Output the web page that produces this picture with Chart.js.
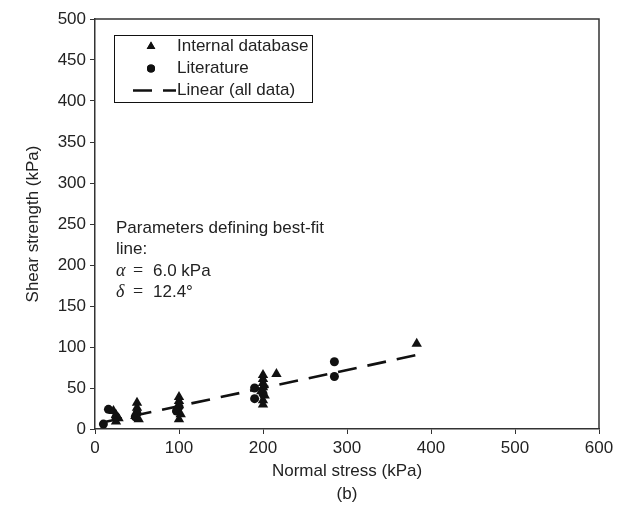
<!DOCTYPE html>
<html>
<head>
<meta charset="utf-8">
<script src="https://cdn.jsdelivr.net/npm/chart.js@4"></script>
<style>
  html, body { margin: 0; padding: 0; background: #fff; }
  #wrap { width: 631px; height: 509px; }
</style>
</head>
<body>
<div id="wrap"><canvas id="myChart" width="631" height="509"></canvas></div>
<script>
const internalX = [22, 25, 28, 25, 50, 50, 50, 48, 52, 100, 100, 100, 98, 102, 100, 200, 200, 200, 200, 198, 202, 200, 200, 216, 383];
const internalY = [22, 17, 13, 9, 32, 26, 21, 16, 12, 39, 34, 29, 24, 18, 12, 66, 61, 56, 51, 46, 41, 35, 30, 67, 104];

const literatureX = [16, 10, 25, 48, 50, 97, 100, 190, 190, 200, 285, 285];
const literatureY = [24, 6, 14, 15, 19, 22, 27, 50, 37, 43, 82, 64];

const fitX = [10, 383];
const fitY = [8.2, 90.2];

const xTicks = [0, 100, 200, 300, 400, 500, 600];
const yTicks = [0, 50, 100, 150, 200, 250, 300, 350, 400, 450, 500];

const legendLabels = ["Internal database", "Literature", "Linear (all data)"];
const noteLines = ["Parameters defining best-fit", "line:"];

const ink = "#111";
const axisInk = "#333";
const sans = "'Liberation Sans', Arial, sans-serif";

const pts = (xs, ys) => xs.map((x, i) => ({ x, y: ys[i] }));

// frame, legend and the fit parameters text
const extras = {
  id: "extras",
  afterDraw(chart) {
    const { ctx, chartArea: a } = chart;
    ctx.save();
    ctx.strokeStyle = axisInk;
    ctx.lineWidth = 1.5;
    ctx.beginPath();
    ctx.moveTo(a.left, a.top);
    ctx.lineTo(a.right, a.top);
    ctx.lineTo(a.right, a.bottom);
    ctx.stroke();

    // legend
    ctx.lineWidth = 1;
    ctx.strokeStyle = ink;
    ctx.strokeRect(114.5, 35.5, 198, 67);
    const rows = [46.5, 68.5, 90.5];
    const ds = chart.data.datasets;
    ctx.fillStyle = ink;
    Chart.helpers.drawPoint(ctx, { pointStyle: "triangle", radius: 5, rotation: 0, borderWidth: 0 }, 151, rows[0]);
    ctx.fill();
    Chart.helpers.drawPoint(ctx, { pointStyle: "circle", radius: 4, rotation: 0, borderWidth: 0 }, 151, rows[1]);
    ctx.fill();
    ctx.setLineDash(ds[2].borderDash);
    ctx.lineWidth = ds[2].borderWidth;
    ctx.beginPath();
    ctx.moveTo(133, rows[2]);
    ctx.lineTo(176, rows[2]);
    ctx.stroke();
    ctx.setLineDash([]);
    ctx.font = "17px " + sans;
    ctx.fillStyle = "#222";
    ctx.textBaseline = "middle";
    legendLabels.forEach((t, i) => ctx.fillText(t, 177, rows[i]));

    // note
    ctx.fillText(noteLines[0], 116, 228);
    ctx.fillText(noteLines[1], 116, 249.5);
    ctx.font = "italic 18px 'Liberation Serif', serif";
    ctx.fillText("\u03b1", 116, 271);
    ctx.fillText("\u03b4", 116, 292);
    ctx.font = "18px 'Liberation Serif', serif";
    ctx.fillText("=", 133, 271);
    ctx.fillText("=", 133, 292);
    ctx.font = "17px " + sans;
    ctx.fillText("6.0 kPa", 153, 271);
    ctx.fillText("12.4\u00b0", 153, 292);
    ctx.restore();
  },
};

const data = {
  datasets: [
    {
      label: legendLabels[0],
      data: pts(internalX, internalY),
      pointStyle: "triangle",
      pointRadius: 6,
      backgroundColor: ink,
      borderColor: ink,
      borderWidth: 0,
      showLine: false,
      order: 1,
    },
    {
      label: legendLabels[1],
      data: pts(literatureX, literatureY),
      pointStyle: "circle",
      pointRadius: 4.5,
      backgroundColor: ink,
      borderColor: ink,
      borderWidth: 0,
      showLine: false,
      order: 2,
    },
    {
      label: legendLabels[2],
      data: pts(fitX, fitY),
      showLine: true,
      pointRadius: 0,
      borderColor: ink,
      borderWidth: 2.6,
      borderDash: [19, 11],
      fill: false,
      order: 3,
    },
  ],
};

const config = {
  type: "scatter",
  data,
  plugins: [extras],
  options: {
    responsive: false,
    animation: false,
    layout: { padding: { left: 20, top: 19, right: 32, bottom: 0 } },
    plugins: { legend: { display: false }, tooltip: { enabled: false } },
    scales: {
      x: {
        type: "linear",
        min: 0,
        max: 600,
        afterBuildTicks: (s) => { s.ticks = xTicks.map((v) => ({ value: v })); },
        afterFit: (s) => { s.height = 80; },
        border: { color: axisInk, width: 1.5 },
        grid: { drawOnChartArea: false, drawTicks: true, tickLength: 5, color: axisInk, tickWidth: 1 },
        ticks: { color: "#222", padding: 4, font: { family: sans, size: 17 }, maxRotation: 0 },
        title: {
          display: true,
          text: ["Normal stress (kPa)", "(b)"],
          color: "#222",
          font: { family: sans, size: 17, lineHeight: 1.35 },
          padding: { top: 0, bottom: 3 },
        },
      },
      y: {
        type: "linear",
        min: 0,
        max: 500,
        afterBuildTicks: (s) => { s.ticks = yTicks.map((v) => ({ value: v })); },
        afterFit: (s) => { s.width = 75; },
        border: { color: axisInk, width: 1.5 },
        grid: { drawOnChartArea: false, drawTicks: true, tickLength: 5, color: axisInk, tickWidth: 1 },
        ticks: { color: "#222", padding: 4, font: { family: sans, size: 17 } },
        title: {
          display: true,
          text: "Shear strength (kPa)",
          color: "#222",
          font: { family: sans, size: 17 },
          padding: { top: 3, bottom: 0 },
        },
      },
    },
  },
};

const myChart = new Chart(document.querySelector("#myChart").getContext("2d"), config);
</script>
</body>
</html>
